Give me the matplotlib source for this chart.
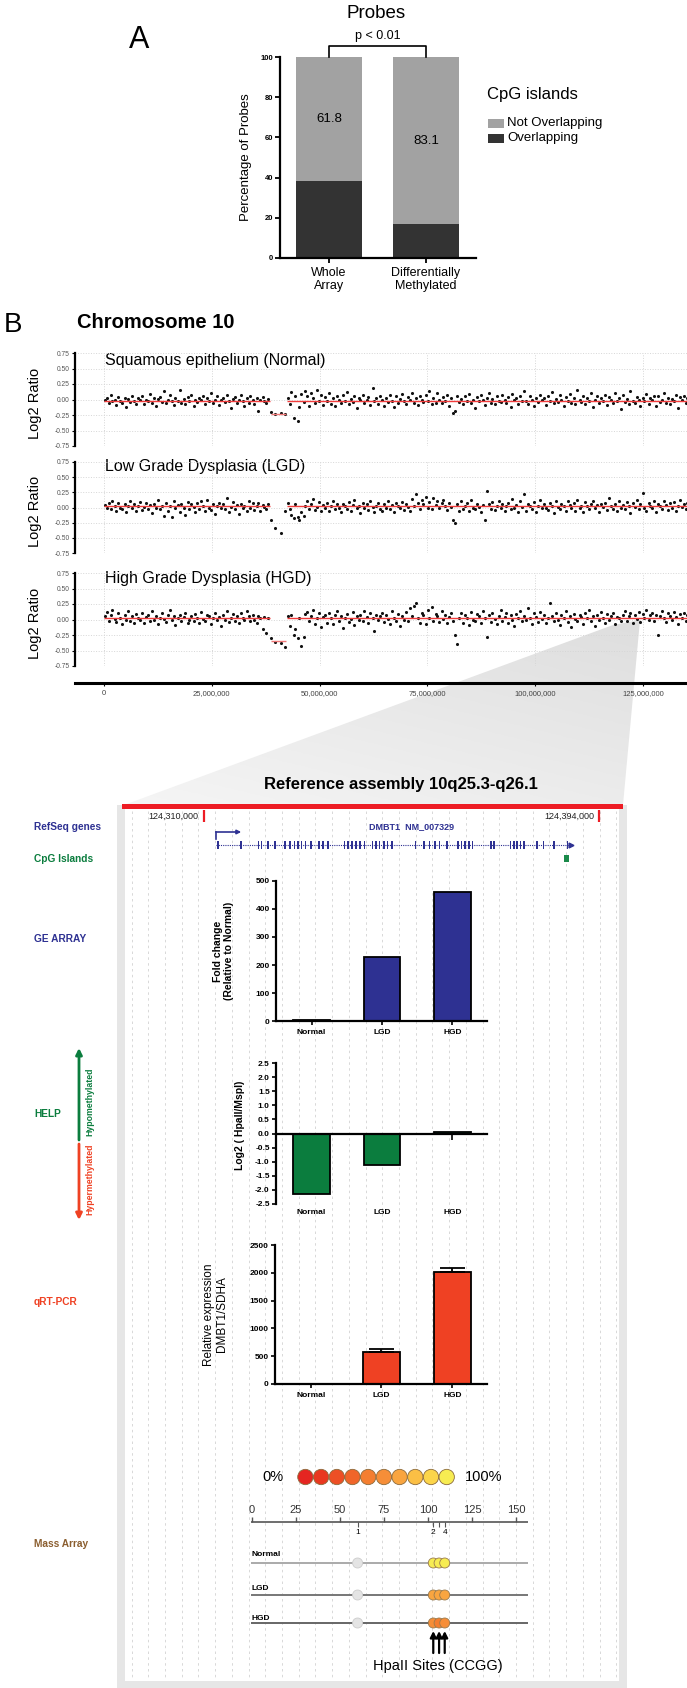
import numpy as np
import matplotlib
matplotlib.use("Agg")
import matplotlib.pyplot as plt
from matplotlib.patches import Rectangle, Polygon
from matplotlib.colors import LinearSegmentedColormap
from matplotlib.ticker import FuncFormatter
from matplotlib.transforms import blended_transform_factory

plt.rcParams['font.family'] = ['Liberation Sans', 'DejaVu Sans']

# ======================= DATA =======================
# ---- Panel A ----
probe_sets = ["Whole\nArray", "Differentially\nMethylated"]
not_overlapping_pct = [61.8, 83.1]
overlapping_pct = [38.2, 16.9]
cpg_legend = ["Not Overlapping", "Overlapping"]
pct_ticks = [0, 20, 40, 60, 80, 100]
p_value_text = "p < 0.01"

# ---- Panel B : chromosome 10 copy number ----
chrom_titles = ["Squamous epithelium (Normal)", "Low Grade Dysplasia (LGD)",
                "High Grade Dysplasia (HGD)"]
chrom_ticks_bp = [0, 25000000, 50000000, 75000000, 100000000, 125000000]
log2_ticks = [0.75, 0.50, 0.25, 0.00, -0.25, -0.50, -0.75]

probe_mb_p = [0.3, 0.7, 1.1, 1.6, 2.0, 2.5, 2.9, 3.4, 3.8, 4.3,
              4.8, 5.2, 5.7, 6.1, 6.6, 7.0, 7.5, 8.0, 8.4, 8.9,
              9.3, 9.8, 10.2, 10.7, 11.2, 11.6, 12.1, 12.5, 13.0, 13.4,
              13.9, 14.4, 14.8, 15.3, 15.7, 16.2, 16.6, 17.1, 17.6, 18.0,
              18.5, 18.9, 19.4, 19.8, 20.3, 20.8, 21.2, 21.7, 22.1, 22.6,
              23.0, 23.5, 24.0, 24.4, 24.9, 25.3, 25.8, 26.2, 26.7, 27.2,
              27.6, 28.1, 28.5, 29.0, 29.4, 29.9, 30.4, 30.8, 31.3, 31.7,
              32.2, 32.6, 33.1, 33.6, 34.0, 34.5, 34.9, 35.4, 35.8, 36.3,
              36.8, 37.2, 37.7, 38.1]
probe_mb_gap = [38.7, 39.6, 41.0, 42.1]
probe_mb_q = [42.6, 43.1, 43.5, 44.0, 44.4, 44.9, 45.3, 45.8, 46.3, 46.7,
              47.2, 47.6, 48.1, 48.5, 49.0, 49.5, 49.9, 50.4, 50.8, 51.3,
              51.7, 52.2, 52.7, 53.1, 53.6, 54.0, 54.5, 54.9, 55.4, 55.9,
              56.3, 56.8, 57.2, 57.7, 58.1, 58.6, 59.1, 59.5, 60.0, 60.4,
              60.9, 61.3, 61.8, 62.3, 62.7, 63.2, 63.6, 64.1, 64.5, 65.0,
              65.5, 65.9, 66.4, 66.8, 67.3, 67.7, 68.2, 68.7, 69.1, 69.6,
              70.0, 70.5, 70.9, 71.4, 71.9, 72.3, 72.8, 73.2, 73.7, 74.1,
              74.6, 75.1, 75.5, 76.0, 76.4, 76.9, 77.3, 77.8, 78.3, 78.7,
              79.2, 79.6, 80.1, 80.5, 81.0, 81.5, 81.9, 82.4, 82.8, 83.3,
              83.7, 84.2, 84.7, 85.1, 85.6, 86.0, 86.5, 86.9, 87.4, 87.9,
              88.3, 88.8, 89.2, 89.7, 90.1, 90.6, 91.1, 91.5, 92.0, 92.4,
              92.9, 93.3, 93.8, 94.3, 94.7, 95.2, 95.6, 96.1, 96.5, 97.0,
              97.5, 97.9, 98.4, 98.8, 99.3, 99.7, 100.2, 100.7, 101.1, 101.6,
              102.0, 102.5, 102.9, 103.4, 103.9, 104.3, 104.8, 105.2, 105.7, 106.1,
              106.6, 107.1, 107.5, 108.0, 108.4, 108.9, 109.3, 109.8, 110.3, 110.7,
              111.2, 111.6, 112.1, 112.5, 113.0, 113.5, 113.9, 114.4, 114.8, 115.3,
              115.7, 116.2, 116.7, 117.1, 117.6, 118.0, 118.5, 118.9, 119.4, 119.9,
              120.3, 120.8, 121.2, 121.7, 122.1, 122.6, 123.1, 123.5, 124.0, 124.4,
              124.9, 125.3, 125.8, 126.3, 126.7, 127.2, 127.6, 128.1, 128.5, 129.0,
              129.5, 129.9, 130.4, 130.8, 131.3, 131.7, 132.2, 132.7, 133.1, 133.6,
              134.0, 134.5, 134.9, 135.3]

# log2 ratios in hundredths
normal_p = [-1, 3, -5, 8, -3, 0, -9, 4, -2, -6, 2, -12, 1, -4, 6, -2, -8, 3, -1, 5,
            -7, 0, -3, 9, -5, 2, -10, 1, 4, -4, 13, -6, -1, 7, -3, -9, 2, -2, 16, -5,
            1, -7, 4, -2, 8, -11, 0, -4, 3, -1, 6, -8, 2, -3, 10, -6, -1, 5, -9, 0,
            3, -4, 7, -2, -14, 1, 4, -6, -1, 8, -3, -10, 2, -5, 5, -1, -7, 3, -18, 0,
            4, -3, -6, 1]
normal_gap = [-20, -23, -22, -24]
normal_q = [2, -8, 12, -30, 5, -35, -12, 9, -4, 14, 6, -10, 11, 3, -6, 15, -2, 8, -9, 4,
            -3, 10, -7, 2, -11, 5, 0, -5, 8, -2, 12, -8, 1, -4, 6, -13, 3, -1, 7, -6,
            0, 4, -9, 18, -3, 2, -7, 5, -1, -10, 3, -4, 8, -2, -12, 6, -5, 1, 9, -3,
            -7, 4, -1, 11, -6, 2, -9, 5, 0, -4, 7, -2, 13, -8, 3, -5, 10, -1, -6, 4,
            -3, 8, -11, 2, -22, -19, 6, -4, 1, -8, 5, -2, 9, -6, 0, -13, 4, -3, 7, -1,
            -9, 3, 11, -5, 1, -7, 6, -2, -4, 8, 0, -6, 4, -12, 9, -1, 3, -8, 5, -3,
            14, -2, -7, 6, 0, -10, 3, -4, 8, -1, 2, -9, 5, -3, 12, -6, 1, -4, 7, 0,
            -11, 4, -2, 9, -5, 3, -8, 16, -1, -4, 6, -7, 2, -3, 10, -12, 0, 5, -6, 3,
            -2, 8, -9, 4, -1, -5, 11, -3, 2, -15, 7, -4, 1, -8, 13, -2, -6, 4, 0, -10,
            3, -3, 9, -7, 2, -1, 5, -11, 6, -4, 0, 10, -5, 3, -8, 1, -2, 7, -13, 4,
            -1, 6, -6, 2]
lgd_p = [4, -1, 7, -3, 10, 2, -5, 8, 0, -2, 6, -8, 3, 11, -1, 5, -6, 2, 9, -4,
         1, 7, -3, 4, -9, 6, 0, 12, -2, 3, -14, 8, -5, 2, -15, 10, -1, 4, -7, 6,
         0, -12, 9, -3, 5, 1, -8, 7, -2, 11, 3, -6, 13, 0, -4, 6, -10, 2, 8, -1,
         5, -3, 15, -7, 1, 9, -2, 4, -11, 6, 0, 3, -5, 10, -1, 7, -4, 2, 8, -6,
         4, 1, -3, 6]
lgd_gap = [-20, -33, -42, -6]
lgd_q = [8, -3, -12, -18, 5, -15, -20, -8, -14, 3, 10, -2, 6, 14, -4, 1, 9, -6, 4, -1,
         7, -5, 2, 11, -3, 6, 0, -8, 5, 3, -2, 9, -6, 4, 12, -1, 2, -9, 7, 0,
         5, -4, 10, 1, -7, 3, 8, -2, -5, 6, 0, 11, -3, 4, -8, 7, 2, -1, 9, -4,
         6, 1, -6, 14, 3, 22, 8, -2, 12, 5, 18, 0, 9, -3, 15, 4, 10, -1, 7, 13,
         2, -4, 8, 1, -20, -25, 5, -6, 10, -2, 3, 7, -5, 12, 0, -3, 6, 1, -8, 4,
         -20, 27, 6, -2, 9, -4, 3, 11, -1, 5, -6, 2, 8, -3, 14, 0, 4, -7, 10, 1,
         22, -5, 6, 2, -2, 9, -8, 3, 12, -1, 5, 0, -4, 8, 3, -9, 11, 1, -3, 6,
         2, -6, 10, 4, -1, 7, -5, 13, 0, 3, -7, 9, 2, -3, 6, 11, -1, 4, -8, 5,
         1, 8, -4, 15, 3, -2, 6, -6, 10, 0, 4, -3, 9, 2, -9, 7, 1, 12, -2, 5,
         24, 0, -5, 8, 3, -1, 10, -7, 6, 2, -2, 11, 4, -4, 7, 0, 9, -6, 3, 13,
         1, 5, -3, 8]
hgd_p = [5, 12, -2, 8, 16, 1, -4, 10, 3, -8, 7, 0, 14, -3, 5, -6, 9, 2, -1, 11,
         -5, 4, 8, -2, 13, 0, 6, -7, 3, 10, 1, -4, 7, 15, -1, 5, -9, 2, 8, -3,
         4, 11, -5, 0, 6, -2, 9, 3, -6, 12, 1, -3, 8, 5, -8, 2, 10, -1, 4, -10,
         7, 0, 13, -4, 3, 9, -2, 6, -6, 11, 2, -1, 14, 5, -3, 8, 0, -5, 6, 3,
         -15, 4, -22, 2]
hgd_gap = [-30, -36, -38, -44]
hgd_q = [5, -10, 8, -25, -15, -30, 2, -42, -28, 9, 12, -3, 6, 15, -7, 3, 10, -12, 4, 8,
         -5, 11, 2, -8, 7, 14, -2, 5, -14, 3, 9, -4, 1, 12, -9, 6, 0, 8, -3, 13,
         4, -6, 10, 2, -18, 7, -1, 5, 11, -4, 8, 1, -7, 14, 3, -2, 9, -10, 6, 0,
         12, -3, 18, 5, 22, 27, 2, -5, 10, 7, -8, 15, 3, 20, -2, 9, 6, -4, 13, 1,
         8, -6, 4, 11, -2, -25, -40, 3, 10, -5, 7, 2, -9, 12, 0, -3, 9, 5, -6, 14,
         3, -28, 8, -4, 11, 1, -8, 6, 15, -2, 4, 10, -5, 7, 0, -11, 9, 3, 13, -3,
         6, -1, 18, 2, -7, 10, 4, -4, 12, 1, 8, -6, 3, 27, 5, -2, 11, 0, -9, 7,
         2, 13, -4, 6, -12, 9, 1, -3, 8, 4, -7, 10, 2, 15, -2, 5, -10, 7, 0, 12,
         3, -5, 9, -1, 6, 11, -8, 4, 2, -3, 8, 14, -2, 5, 10, -6, 7, 1, 12, -4,
         9, 3, 16, -1, 7, 11, -3, 8, -25, 5, 13, 2, -4, 10, 6, -1, 12, 4, -7, 9,
         3, 11, -2, 7]

# segmentation (Mb start, Mb end, mean log2 per sample)
seg_start_mb = [0.1, 38.7, 42.4]
seg_end_mb = [38.5, 42.2, 135.4]
normal_seg = [-0.02, -0.23, -0.02]
lgd_seg = [0.02, None, 0.03]
hgd_seg = [0.03, -0.35, 0.03]

# ---- Browser view ----
region_title = "Reference assembly 10q25.3-q26.1"
ref_ticks_bp = [124310000, 124394000]
gene_label = "DMBT1  NM_007329"
gene_span_kb = [2.6, 77.6]           # offset from 124,310,000
exon_offsets_kb = [2.93, 7.86, 11.58, 12.23, 13.64, 15.04, 17.27, 18.29, 19.22, 19.97,
                   20.71, 21.54, 22.75, 24.43, 25.28, 26.30, 29.82, 30.56, 31.41, 32.24,
                   33.18, 34.11, 35.79, 36.53, 37.28, 38.21, 38.95, 39.97, 44.90, 46.77,
                   47.87, 49.09, 50.02, 51.61, 53.93, 54.67, 55.41, 56.27, 57.01, 60.92,
                   61.66, 65.10, 65.84, 66.50, 67.25, 67.99, 70.69, 72.09, 74.40, 77.21]
cpg_island_kb = [76.5, 77.5]

stages = ["Normal", "LGD", "HGD"]
ge_fold_change = [3, 228, 462]
help_log2 = [-2.13, -1.12, 0.06]
qpcr_expr = [2, 583, 2020]
qpcr_err = [0, 40, 65]

# ---- Mass Array ----
methyl_scale_colors = ["#e52521", "#e9381f", "#ed4f25", "#f0652a", "#f47e30",
                       "#f68e38", "#f9a540", "#fbbf45", "#fcd54a", "#f7ec52"]
amplicon_ticks = [0, 25, 50, 75, 100, 125, 150]
cpg_sites = [60, 103, 106.3, 109.5]
cpg_site_labels = ["1", "2", "", "4"]
mass_normal = [None, 0.95, 0.92, 0.95]
mass_lgd = [None, 0.65, 0.62, 0.66]
mass_hgd = [None, 0.52, 0.48, 0.52]
hpaii_sites = [103, 106.3, 109.5]

# ======================= FIGURE =======================
W, H = 687, 1688
fig = plt.figure(figsize=(W / 100, H / 100), dpi=100)


def px_axes(x0, y0, x1, y1):
    return fig.add_axes([x0 / W, 1 - y1 / H, (x1 - x0) / W, (y1 - y0) / H])


# background canvas in pixel coordinates
bg = px_axes(0, 0, W, H)
bg.set_zorder(-1)
bg.axis('off')

BLUE = '#2e3192'
GREEN = '#0b7d3e'
RED = '#ef4123'
BROWN = '#8b5e2f'

# ---- zoom wedge with gradient ----
wedge = Polygon([(613, 625), (640, 620), (623, 805), (124, 805)], closed=True,
                facecolor='none', edgecolor='none')
bg.add_patch(wedge)
gy = np.linspace(0, 1, 120).reshape(-1, 1)
gx = np.linspace(0, 1, 60).reshape(1, -1)
grad = 0.6 * gy + 0.4 * (1 - gx)
cmap = LinearSegmentedColormap.from_list('g', ['#dedede', '#f5f5f5'])
im = bg.imshow(grad, cmap=cmap, extent=(124, 640, 805, 620), aspect='auto',
               interpolation='bilinear', vmin=0, vmax=1)
im.set_clip_path(wedge)

# frame of browser view
for rx, ry, rw, rh in [(117, 805, 8, 883), (619, 805, 8, 883), (117, 1681, 510, 7)]:
    bg.add_patch(Rectangle((rx, ry), rw, rh, color='#e6e6e6', lw=0))
bg.add_patch(Rectangle((122, 803.5), 501, 5.5, color='#ed1c24', lw=0))

bg.set_xlim(0, W)
bg.set_ylim(H, 0)

# ---- labels ----
bg.text(139, 40, "A", fontsize=22, ha='center', va='center')
bg.text(13, 325, "B", fontsize=20, ha='center', va='center')
bg.text(376, 13, "Probes", fontsize=13.5, ha='center', va='center')
bg.text(77, 322, "Chromosome 10", fontsize=14.5, fontweight='bold', ha='left', va='center')
bg.text(401, 785, region_title, fontsize=12, fontweight='bold', ha='center', va='center')

# ======================= PANEL A =======================
axA = px_axes(280, 57, 476, 258)
xa = np.arange(len(probe_sets))
colA = ['#a2a2a2', '#333333']
axA.bar(xa, overlapping_pct, width=0.68, color=colA[1], lw=0)
axA.bar(xa, not_overlapping_pct, bottom=overlapping_pct, width=0.68, color=colA[0], lw=0)
for xi, v, b in zip(xa, not_overlapping_pct, overlapping_pct):
    axA.text(xi, b + v / 2, f"{v:.1f}", ha='center', va='center', fontsize=9.5)
axA.set_xlim(-0.505, 1.515)
axA.set_ylim(0, 100)
axA.set_yticks(pct_ticks)
axA.set_xticks(xa)
axA.set_xticklabels(probe_sets, fontsize=9, linespacing=1.15)
axA.tick_params(axis='y', length=3.5, width=1.3, labelsize=5.5, pad=1.5)
axA.tick_params(axis='x', length=3.5, width=1.3, pad=3)
for lbl in axA.get_yticklabels():
    lbl.set_fontweight('bold')
for s in ['top', 'right']:
    axA.spines[s].set_visible(False)
for s in ['left', 'bottom']:
    axA.spines[s].set_linewidth(1.6)
axA.set_ylabel("Percentage of Probes", fontsize=9.5)
axA.yaxis.set_label_coords(-0.143, 0.5)
axA.plot([0, 0, 1, 1], [100, 105.5, 105.5, 100], color='k', lw=1.2, clip_on=False)
axA.text(0.5, 110.3, p_value_text, ha='center', va='center', fontsize=9)

bg.text(487, 95, "CpG islands", fontsize=12, ha='left', va='center')
for i, (lab, c) in enumerate(zip(cpg_legend, colA)):
    yy = 123 + 15 * i
    bg.add_patch(Rectangle((488, yy - 4.5), 16, 9, color=c, lw=0))
    bg.text(507, yy, lab, fontsize=9.5, ha='left', va='center')

# ======================= PANEL B =======================
XL = (-6.8e6, 135.2e6)
tops = [353, 462, 573]
bots = [446, 553, 666]
title_y = [360, 467, 578]
pos_bp = np.array(probe_mb_p + probe_mb_gap + probe_mb_q) * 1e6
series = [normal_p + normal_gap + normal_q, lgd_p + lgd_gap + lgd_q, hgd_p + hgd_gap + hgd_q]
segs = [normal_seg, lgd_seg, hgd_seg]
for k in range(3):
    ax = px_axes(74.5, tops[k], 687, bots[k])
    ax.set_facecolor('none')
    vals = np.array(series[k]) / 100.0
    n = min(len(vals), len(pos_bp))
    ax.scatter(pos_bp[:n], vals[:n], s=5, c='#111111', linewidths=0, zorder=3)
    for s0, s1, m in zip(seg_start_mb, seg_end_mb, segs[k]):
        if m is None:
            continue
        col = '#f07878' if (s1 - s0) < 10 else '#f23c3c'
        ax.hlines(m, s0 * 1e6, s1 * 1e6, color=col, lw=1.0, zorder=4)
    ax.set_xlim(*XL)
    ax.set_ylim(-0.75, 0.75)
    ax.set_xticks(chrom_ticks_bp)
    ax.set_xticklabels([])
    ax.set_yticks(log2_ticks)
    ax.set_yticklabels([f"{v:.2f}" for v in log2_ticks])
    ax.tick_params(axis='x', length=0)
    ax.tick_params(axis='y', length=2.5, width=0.8, labelsize=4.8, labelcolor='#555555', pad=1.2)
    ax.grid(True, color='#d6d6d6', ls=':', lw=0.7)
    for s in ['top', 'right', 'bottom']:
        ax.spines[s].set_visible(False)
    ax.spines['left'].set_linewidth(1.6)
    bg.text(105, title_y[k], chrom_titles[k], fontsize=11.5, ha='left', va='center')
    bg.text(35, (tops[k] + bots[k]) / 2 + 4, "Log2 Ratio", fontsize=10.5, rotation=90,
            ha='center', va='center')

axx = px_axes(74.5, 670, 687, 683)
axx.set_facecolor('none')
axx.set_xlim(*XL)
axx.set_yticks([])
for s in ['top', 'right', 'left']:
    axx.spines[s].set_visible(False)
axx.spines['bottom'].set_linewidth(2.2)
axx.set_xticks(chrom_ticks_bp)
axx.xaxis.set_major_formatter(FuncFormatter(lambda v, p: f"{int(round(v)):,}"))
axx.tick_params(axis='x', length=2.5, width=0.8, labelsize=5.5, labelcolor='#444444', pad=2.5)

# ======================= BROWSER =======================
x_ref0, x_ref1 = 204.0, 599.5
ref0_kb = ref_ticks_bp[0] / 1000.0
ref1_kb = ref_ticks_bp[1] / 1000.0
px_per_kb = (x_ref1 - x_ref0) / (ref1_kb - ref0_kb)
br = px_axes(124, 809, 621, 1682)
br.set_facecolor('none')
br.axis('off')
br_left = ref0_kb - (x_ref0 - 124) / px_per_kb
br_right = ref0_kb + (621 - x_ref0) / px_per_kb
br.set_xlim(br_left, br_right)
br.set_ylim(1682, 809)
for gxk in np.arange(br_left + 1.6, br_right, 3.55):
    br.vlines(gxk, 811, 1680, color='#d2d2d2', lw=0.6, linestyles=(0, (3, 4)), zorder=0)
br.vlines([ref0_kb, ref1_kb], 810, 822, color='#ed1c24', lw=1.6)
for kb, bp in zip([ref0_kb, ref1_kb], ref_ticks_bp):
    br.text(kb - 1.1, 816, f"{bp:,}", ha='right', va='center', fontsize=6.5, color='#222222')

g0 = ref0_kb + gene_span_kb[0]
g1 = ref0_kb + gene_span_kb[1]
br.hlines(845, g0, g1, color=BLUE, lw=0.8, linestyles=(0, (1, 1)))
for e in exon_offsets_kb:
    br.add_patch(Rectangle((ref0_kb + e - 0.18, 841), 0.36, 8, color=BLUE, lw=0))
br.plot([g1 + 0.3], [845], marker='>', ms=3.5, color=BLUE)
br.plot([g0, g0], [839, 832], color=BLUE, lw=1.2)
br.annotate('', xy=(g0 + 5.3, 832), xytext=(g0 - 0.1, 832),
            arrowprops=dict(arrowstyle='-|>', color=BLUE, lw=1.2, mutation_scale=6,
                            shrinkA=0, shrinkB=0))
br.text(ref0_kb + (412 - x_ref0) / px_per_kb, 827, gene_label, ha='center', va='center',
        fontsize=6.5, fontweight='bold', color=BLUE)
br.add_patch(Rectangle((ref0_kb + cpg_island_kb[0], 855), cpg_island_kb[1] - cpg_island_kb[0], 7,
                       color='#1a8a4a', lw=0))

# left track labels
for txt, y, c in [("RefSeq genes", 827, BLUE), ("CpG Islands", 859, GREEN),
                  ("GE ARRAY", 939, BLUE), ("HELP", 1114, GREEN),
                  ("qRT-PCR", 1302, RED), ("Mass Array", 1544, BROWN)]:
    bg.text(34, y, txt, fontsize=7.3, fontweight='bold', color=c, ha='left', va='center')
bg.annotate('', xy=(79, 1048), xytext=(79, 1140),
            arrowprops=dict(arrowstyle='-|>', color=GREEN, lw=2.0, mutation_scale=9,
                            shrinkA=0, shrinkB=0))
bg.annotate('', xy=(79, 1220), xytext=(79, 1144),
            arrowprops=dict(arrowstyle='-|>', color=RED, lw=2.0, mutation_scale=9,
                            shrinkA=0, shrinkB=0))
bg.text(90, 1102, "Hypomethylated", rotation=90, fontsize=6.3, fontweight='bold',
        color=GREEN, ha='center', va='center')
bg.text(90, 1179, "Hypermethylated", rotation=90, fontsize=6.3, fontweight='bold',
        color=RED, ha='center', va='center')


def bar_panel(box, vals, color, ylim, yticks, fmt, ylabel, lab_xy, errs=None,
              zero_axis=False, ylab_weight='bold', ylab_size=7.5):
    ax = px_axes(*box)
    ax.set_facecolor('none')
    x = np.arange(len(vals))
    ax.bar(x, vals, width=0.52, color=color, edgecolor='k', lw=1.3, zorder=2)
    if errs is not None:
        ax.errorbar(x, vals, yerr=[np.zeros(len(errs)), errs], fmt='none', ecolor='k',
                    elinewidth=1.3, capsize=9, capthick=1.3, zorder=3)
    ax.set_xlim(-0.504, 2.49)
    ax.set_ylim(*ylim)
    ax.set_yticks(yticks)
    ax.set_yticklabels([fmt.format(v) for v in yticks])
    for s in ['top', 'right']:
        ax.spines[s].set_visible(False)
    for s in ['left', 'bottom']:
        ax.spines[s].set_linewidth(1.6)
    ax.tick_params(axis='y', length=3, width=1.2, labelsize=6, pad=1.5)
    ax.set_xticks(x)
    if zero_axis:
        ax.spines['bottom'].set_position(('data', 0))
        ax.tick_params(axis='x', length=4, width=1.2, labelbottom=False)
        tr = blended_transform_factory(ax.transData, ax.transAxes)
        for xi, lab in zip(x, stages):
            ax.text(xi, -0.057, lab, transform=tr, ha='center', va='center',
                    fontsize=6, fontweight='bold')
    else:
        ax.set_xticklabels(stages)
        ax.tick_params(axis='x', length=3, width=1.2, labelsize=6, pad=3)
        for lbl in ax.get_xticklabels():
            lbl.set_fontweight('bold')
    for lbl in ax.get_yticklabels():
        lbl.set_fontweight('bold')
    ax.set_ylabel(ylabel, fontsize=ylab_size, fontweight=ylab_weight, linespacing=1.1)
    ax.yaxis.set_label_coords(*lab_xy)
    return ax


bar_panel((276, 881, 487, 1021), ge_fold_change, BLUE, (0, 500), [0, 100, 200, 300, 400, 500],
          "{:.0f}", "Fold change\n(Relative to Normal)", (-0.199, 0.5))
bar_panel((276, 1063, 487, 1204), help_log2, GREEN, (-2.5, 2.5),
          [2.5, 2.0, 1.5, 1.0, 0.5, 0.0, -0.5, -1.0, -1.5, -2.0, -2.5],
          "{:.1f}", "Log2 ( HpaII/MspI)", (-0.147, 0.56), zero_axis=True)
bar_panel((275, 1245, 487, 1384), qpcr_expr, RED, (0, 2500), [0, 500, 1000, 1500, 2000, 2500],
          "{:.0f}", "Relative expression\nDMBT1/SDHA", (-0.222, 0.5), errs=qpcr_err,
          ylab_weight='normal', ylab_size=8.5)

# ======================= MASS ARRAY =======================
ma = px_axes(240, 1455, 560, 1680)
ma.set_facecolor('none')
ma.axis('off')
u_px = 1.76
ma.set_xlim((240 - 252) / u_px, (560 - 252) / u_px)
ma.set_ylim(1680, 1455)

leg_u0 = (305.4 - 252) / u_px
leg_du = 15.7 / u_px
leg_u = [leg_u0 + i * leg_du for i in range(len(methyl_scale_colors))]
ma.scatter(leg_u, [1477] * len(leg_u), s=122, c=methyl_scale_colors,
           edgecolors='#8c6b3c', linewidths=0.6, zorder=3)
ma.text(leg_u[0] - 1.4 * leg_du, 1477, "0%", ha='right', va='center', fontsize=10.5)
ma.text(leg_u[-1] + 1.15 * leg_du, 1477, "100%", ha='left', va='center', fontsize=10.5)

scale_end = 156.8
ma.hlines(1522, -0.5, scale_end, color='#555555', lw=1.2)
ma.vlines(amplicon_ticks, 1517, 1522, color='#555555', lw=1.0)
for t in amplicon_ticks:
    ma.text(t, 1510, str(t), ha='center', va='center', fontsize=8, color='#333333')
ma.vlines(cpg_sites, 1522, 1527, color='#555555', lw=0.8)
for s, lab in zip(cpg_sites, cpg_site_labels):
    ma.text(s, 1533, lab, ha='center', va='center', fontsize=6)


def meth_color(v):
    if v is None:
        return '#e4e4e4'
    return methyl_scale_colors[min(9, int(v * 10))]


rows = [("Normal", mass_normal, 1554, 1563, '#aaaaaa'),
        ("LGD", mass_lgd, 1588, 1595, '#777777'),
        ("HGD", mass_hgd, 1619, 1623, '#666666')]
for name, vals, ylab, yline, lc in rows:
    ma.hlines(yline, -0.5, scale_end, color=lc, lw=1.4, zorder=1)
    ma.text(0, ylab, name, ha='left', va='center', fontsize=6, fontweight='bold')
    cols = [meth_color(v) for v in vals]
    edges = ['#cccccc' if v is None else '#9a7b4f' for v in vals]
    ma.scatter(cpg_sites, [yline] * len(cpg_sites), s=52, c=cols, edgecolors=edges,
               linewidths=0.6, zorder=3)

for s in hpaii_sites:
    ma.annotate('', xy=(s, 1631), xytext=(s, 1653),
                arrowprops=dict(arrowstyle='-|>', color='k', lw=1.6, mutation_scale=9,
                                shrinkA=0, shrinkB=0))
ma.text(105.5, 1666, "HpaII Sites (CCGG)", ha='center', va='center', fontsize=10.5)

fig.savefig("out.png", dpi=100)
